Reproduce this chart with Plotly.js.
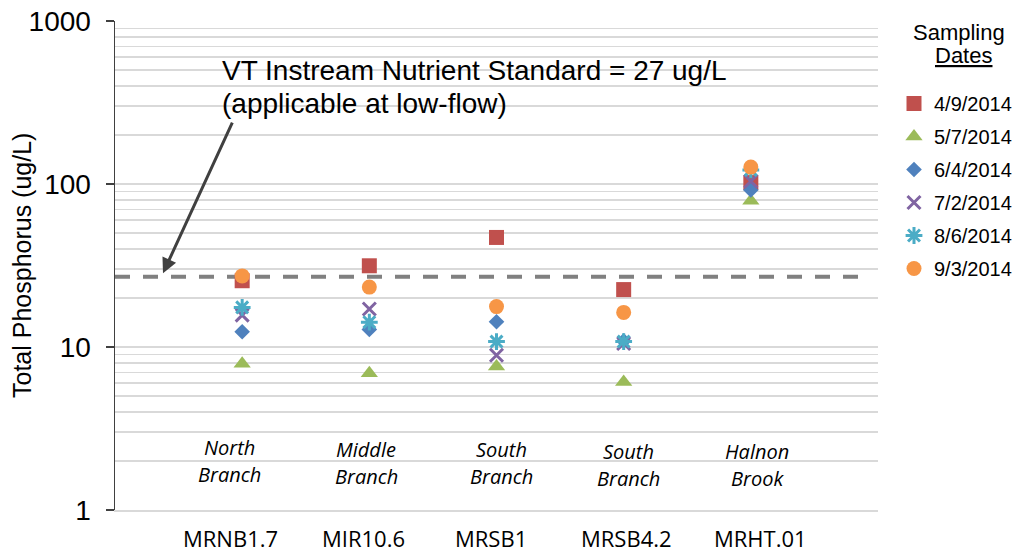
<!DOCTYPE html>
<html>
<head>
<meta charset="utf-8">
<script src="https://cdn.plot.ly/plotly-3.0.1.min.js"></script>
<style>html,body{margin:0;padding:0;background:#fff;}#chart{width:1019px;height:552px;}</style>
</head>
<body>
<div id="chart"></div>
<script>
// ---- data ----
var sites = ["MRNB1.7", "MIR10.6", "MRSB1", "MRSB4.2", "MRHT.01"];
var streamTop = ["North", "Middle", "South", "South", "Halnon"];
var streamBottom = ["Branch", "Branch", "Branch", "Branch", "Brook"];
var siteIndex = [1, 2, 3, 4, 5];
var dates = ["4/9/2014", "5/7/2014", "6/4/2014", "7/2/2014", "8/6/2014", "9/3/2014"];
var tp_0409 = [25.5, 31.5, 47, 22.5, 102];
var tp_0507 = [7.9, 6.9, 7.6, 6.1, 79];
var tp_0604 = [12.4, 12.8, 14.3, 10.9, 92];
var tp_0702 = [15.7, 17.1, 8.9, 10.5, 104];
var tp_0806 = [17.5, 14.2, 10.8, 10.8, 122];
var tp_0903 = [27.3, 23.3, 17.7, 16.3, 127];
var standard = 27;
var yTickVals = [1, 10, 100, 1000];
var yTickText = ["1", "10", "100", "1000"];

var seriesValues = [tp_0409, tp_0507, tp_0604, tp_0702, tp_0806, tp_0903];
var colors = ["#C0504D", "#9BBB59", "#4F81BD", "#8064A2", "#4BACC6", "#F79646"];
var symbols = ["square", "triangle-up", "diamond", "x-thin-open", "asterisk-open", "circle"];
var sizes = [15, 15, 12, 13, 14, 15];

var traces = [];
// standard line
traces.push({
  type: "scatter", mode: "lines", x: [0, 5.9], y: [standard, standard],
  line: {color: "#808080", width: 4, dash: "15px,13px"},
  showlegend: false, hoverinfo: "skip"
});
seriesValues.forEach(function (vals, i) {
  var open = symbols[i].indexOf("open") >= 0;
  traces.push({
    type: "scatter", mode: "markers",
    x: siteIndex, y: vals, name: dates[i],
    legendgroup: "g" + i,
    marker: {
      symbol: symbols[i], size: sizes[i], color: colors[i],
      line: open ? {color: colors[i], width: 3} : {width: 0}
    },
    cliponaxis: false
  });
});

var plotL = 115, plotR = 878, plotT = 21, plotB = 510;
function px2x(p) { return (p - plotL) / (plotR - plotL) * 6; }
function pxPaper(p) { return (p - plotL) / (plotR - plotL); }
function py2paper(p) { return (plotB - p) / (plotB - plotT); }

var annotations = [];
var sitePx = [230, 363, 491, 626, 760];
var streamPx = [229, 366, 501, 628, 757];
var streamYOff = [0, 2, 2, 4, 4];
var italicFont = {family: "Open Sans, Noto Sans, sans-serif", size: 20, color: "#000", style: "italic"};

sites.forEach(function (s, i) {
  annotations.push({
    text: s, xref: "x", yref: "paper", x: px2x(sitePx[i]), y: py2paper(538),
    xanchor: "center", yanchor: "middle", showarrow: false, borderpad: 0,
    font: {family: "Open Sans, Noto Sans, sans-serif", size: 22, color: "#000"}
  });
  annotations.push({
    text: streamTop[i], xref: "x", yref: "paper", x: px2x(streamPx[i]), y: py2paper(447 + streamYOff[i]),
    xanchor: "center", yanchor: "middle", showarrow: false, font: italicFont
  });
  annotations.push({
    text: streamBottom[i], xref: "x", yref: "paper", x: px2x(streamPx[i]), y: py2paper(474 + streamYOff[i]),
    xanchor: "center", yanchor: "middle", showarrow: false, font: italicFont
  });
});

var bigFont = {family: "Arial, Liberation Sans, sans-serif", size: 28, color: "#000"};
annotations.push({
  text: "VT Instream Nutrient Standard = " + standard + " ug/L",
  xref: "paper", yref: "paper", x: pxPaper(220), y: py2paper(70),
  xanchor: "left", yanchor: "middle", align: "left", showarrow: false, font: bigFont
});
annotations.push({
  text: "(applicable at low-flow)",
  xref: "paper", yref: "paper", x: pxPaper(220), y: py2paper(103),
  xanchor: "left", yanchor: "middle", align: "left", showarrow: false, font: bigFont
});
annotations.push({
  text: "", xref: "x", yref: "y", x: px2x(163), y: Math.log10(standard * 1.05),
  ax: 70, ay: -152, showarrow: true, arrowhead: 2, arrowsize: 1, arrowwidth: 3,
  arrowcolor: "#404040", standoff: 0
});
var legTitleFont = {family: "Arial, Liberation Sans, sans-serif", size: 22, color: "#000"};
annotations.push({
  text: "Sampling", xref: "paper", yref: "paper", x: pxPaper(959), y: py2paper(32),
  xanchor: "center", yanchor: "middle", showarrow: false, font: legTitleFont
});
annotations.push({
  text: "<u>Dates</u>", xref: "paper", yref: "paper", x: pxPaper(963), y: py2paper(56),
  xanchor: "center", yanchor: "middle", showarrow: false, font: legTitleFont
});
// y-axis title
annotations.push({
  text: "Total Phosphorus (ug/L)", xref: "paper", yref: "paper", x: pxPaper(22), y: py2paper(266),
  xanchor: "center", yanchor: "middle", textangle: -90, showarrow: false,
  font: {family: "Arial, Liberation Sans, sans-serif", size: 25, color: "#000"}
});

var layout = {
  width: 1019, height: 552,
  margin: {l: plotL, r: 1019 - plotR, t: plotT, b: 552 - plotB, pad: 0, autoexpand: false},
  paper_bgcolor: "#fff", plot_bgcolor: "#fff",
  showlegend: true,
  legend: {
    x: pxPaper(894), y: py2paper(84), xanchor: "left", yanchor: "top",
    font: {family: "Arial, Liberation Sans, sans-serif", size: 20, color: "#000"},
    tracegroupgap: 4, itemwidth: 30, bgcolor: "rgba(0,0,0,0)"
  },
  xaxis: {
    range: [0, 6], showgrid: false, zeroline: false,
    showline: true, linecolor: "#d9d9d9", linewidth: 1.5,
    showticklabels: false, ticks: "", automargin: false
  },
  yaxis: {
    type: "log", range: [0, 3], automargin: false,
    tickvals: yTickVals, ticktext: yTickText,
    ticks: "outside", ticklen: 8, tickwidth: 1.5, tickcolor: "#404040",
    ticklabelstandoff: 9,
    showline: true, linecolor: "#404040", linewidth: 1.5,
    showgrid: true, gridcolor: "#d9d9d9", gridwidth: 1.5, zeroline: false,
    minor: {tickmode: "linear", dtick: "D1", showgrid: true, gridcolor: "#d9d9d9", gridwidth: 1.5, ticks: ""},
    tickfont: {family: "Arial, Liberation Sans, sans-serif", size: 28, color: "#000"}
  },
  annotations: annotations
};

Plotly.newPlot("chart", traces, layout, {displayModeBar: false, staticPlot: true});
</script>
</body>
</html>
